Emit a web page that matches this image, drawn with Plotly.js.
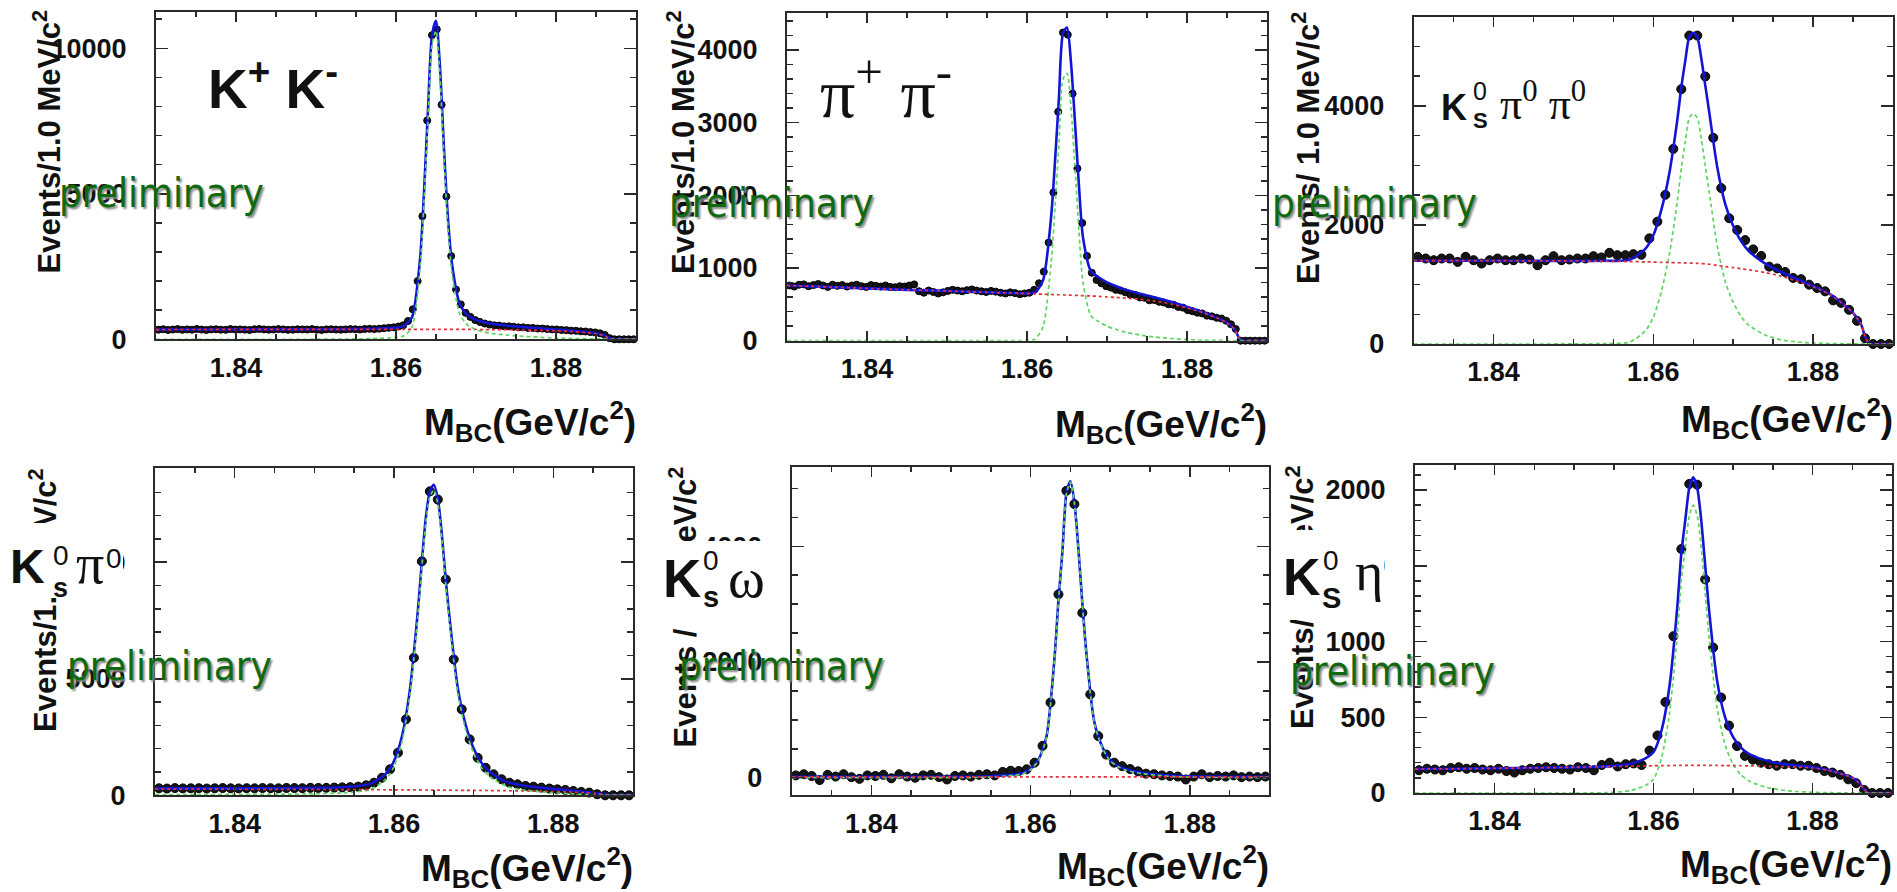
<!DOCTYPE html>
<html>
<head>
<meta charset="utf-8">
<script src="https://cdn.plot.ly/plotly-3.0.1.min.js"></script>
<style>
html, body { margin: 0; padding: 0; background: #ffffff; }
#chart { width: 1897px; height: 892px; }
</style>
</head>
<body>
<div id="chart"></div>
<script>
// ---------- bin centres (GeV/c^2) ----------
const binsFine = [1.8303, 1.8309, 1.8315, 1.8321, 1.8327, 1.8333, 1.8339, 1.8345, 1.8351, 1.8357,
  1.8363, 1.8369, 1.8375, 1.8381, 1.8387, 1.8393, 1.8399, 1.8405, 1.8411, 1.8417,
  1.8423, 1.8429, 1.8435, 1.8441, 1.8447, 1.8453, 1.8459, 1.8465, 1.8471, 1.8477,
  1.8483, 1.8489, 1.8495, 1.8501, 1.8507, 1.8513, 1.8519, 1.8525, 1.8531, 1.8537,
  1.8543, 1.8549, 1.8555, 1.8561, 1.8567, 1.8573, 1.8579, 1.8585, 1.8591, 1.8597,
  1.8603, 1.8609, 1.8615, 1.8621, 1.8627, 1.8633, 1.8639, 1.8645, 1.8651, 1.8657,
  1.8663, 1.8669, 1.8675, 1.8681, 1.8687, 1.8693, 1.8699, 1.8705, 1.8711, 1.8717,
  1.8723, 1.8729, 1.8735, 1.8741, 1.8747, 1.8753, 1.8759, 1.8765, 1.8771, 1.8777,
  1.8783, 1.8789, 1.8795, 1.8801, 1.8807, 1.8813, 1.8819, 1.8825, 1.8831, 1.8837,
  1.8843, 1.8849, 1.8855, 1.8861, 1.8867, 1.8873, 1.8879, 1.8885, 1.8891, 1.8897];

const binsCoarse = [1.8305, 1.8315, 1.8325, 1.8335, 1.8345, 1.8355, 1.8365, 1.8375, 1.8385, 1.8395,
  1.8405, 1.8415, 1.8425, 1.8435, 1.8445, 1.8455, 1.8465, 1.8475, 1.8485, 1.8495,
  1.8505, 1.8515, 1.8525, 1.8535, 1.8545, 1.8555, 1.8565, 1.8575, 1.8585, 1.8595,
  1.8605, 1.8615, 1.8625, 1.8635, 1.8645, 1.8655, 1.8665, 1.8675, 1.8685, 1.8695,
  1.8705, 1.8715, 1.8725, 1.8735, 1.8745, 1.8755, 1.8765, 1.8775, 1.8785, 1.8795,
  1.8805, 1.8815, 1.8825, 1.8835, 1.8845, 1.8855, 1.8865, 1.8875, 1.8885, 1.8895];

// sample points of the fitted curves
const fitX = [1.830, 1.835, 1.840, 1.845, 1.850, 1.854, 1.857, 1.859, 1.860, 1.861, 1.862, 1.863, 1.8635,
  1.864, 1.8645, 1.865, 1.8655, 1.866, 1.8665, 1.867, 1.868, 1.869, 1.870, 1.871, 1.872, 1.874, 1.876,
  1.878, 1.880, 1.882, 1.884, 1.885, 1.886, 1.8865, 1.887, 1.888, 1.890];

// ---------- D0 -> K+ K- ----------
const kkCounts = [330, 345, 320, 335, 350, 325, 340, 330, 355, 335,
  320, 340, 345, 330, 325, 350, 335, 340, 330, 320,
  345, 355, 340, 330, 335, 350, 340, 325, 330, 345,
  340, 335, 350, 330, 320, 340, 345, 335, 330, 340,
  350, 345, 335, 355, 360, 350, 365, 380, 395, 410,
  440, 480, 630, 1030, 2000, 4230, 7520, 10450, 10650, 8060,
  4910, 2860, 1710, 1200, 910, 770, 660, 595, 540, 505,
  480, 470, 445, 445, 430, 410, 410, 390, 390, 370,
  368, 352, 340, 338, 320, 315, 298, 292, 275, 268,
  248, 236, 205, 150, 40, 0, 0, 0, 0, 0];
const kkTotal = [335, 337, 338, 341, 343, 350, 365, 385, 400, 460, 760, 2740, 5040, 7890, 10440, 10940, 9340,
  6540, 4140, 2590, 1189, 818, 667, 585, 533, 468, 420, 378, 335, 295, 245, 206, 137, 65, 8, 5, 3];
const kkSignal = [0, 0, 0, 1, 3, 10, 25, 45, 60, 120, 420, 2400, 4700, 7550, 10100, 10600, 9000,
  6200, 3800, 2250, 850, 480, 330, 250, 200, 140, 100, 70, 45, 30, 20, 16, 12, 10, 8, 5, 3];
const kkBackground = [335, 337, 338, 340, 340, 340, 340, 340, 340, 340, 340, 340, 340, 340, 340, 340, 340,
  340, 340, 340, 339, 338, 337, 335, 333, 328, 320, 308, 290, 265, 225, 190, 125, 55, 0, 0, 0];

// ---------- D0 -> pi+ pi- ----------
const pipiCounts = [760, 745, 770, 775, 750, 765, 780, 760, 740, 770,
  755, 765, 745, 760, 770, 750, 740, 765, 755, 745,
  760, 740, 735, 750, 745, 760, 775, 680, 660, 690,
  670, 650, 665, 685, 700, 690, 680, 695, 705, 690,
  680, 670, 685, 675, 660, 650, 665, 655, 640, 650,
  660, 700, 790, 950, 1350, 2040, 3150, 4240, 4210, 3400,
  2370, 1620, 1165, 935, 835, 790, 750, 730, 700, 690,
  665, 635, 630, 595, 590, 555, 560, 535, 525, 500,
  495, 465, 455, 420, 405, 385, 375, 345, 335, 315,
  305, 275, 225, 160, 0, 0, 0, 0, 0, 0];
const pipiTotal = [760, 740, 720, 700, 685, 670, 660, 653, 650, 664, 830, 1686, 2464, 3362, 4230, 4308, 3826,
  3004, 2122, 1420, 955, 870, 803, 756, 713, 650, 595, 535, 465, 393, 304, 248, 152, 41, 1, 0, 0];
const pipiSignal = [0, 0, 0, 0, 0, 0, 0, 1, 2, 20, 190, 1050, 1830, 2730, 3600, 3680, 3200,
  2380, 1500, 800, 340, 260, 200, 160, 125, 80, 50, 30, 15, 8, 4, 3, 2, 1, 1, 0, 0];
const pipiBackground = [760, 740, 720, 700, 685, 670, 660, 652, 648, 644, 640, 636, 634, 632, 630, 628, 626,
  624, 622, 620, 615, 610, 603, 596, 588, 570, 545, 505, 450, 385, 300, 245, 150, 40, 0, 0, 0];

// ---------- D0 -> KS pi0 pi0 ----------
const kspp0Counts = [1465, 1437, 1408, 1437, 1437, 1380, 1465, 1408, 1352, 1408,
  1437, 1408, 1408, 1437, 1420, 1324, 1408, 1476, 1408, 1420,
  1437, 1437, 1476, 1455, 1532, 1493, 1493, 1510, 1500, 1775,
  2056, 2507, 3279, 4282, 5183, 5183, 4496, 3465, 2620, 2113,
  1915, 1746, 1590, 1480, 1300, 1270, 1210, 1110, 1090, 997,
  941, 885, 733, 690, 575, 389, 96, 0, 0, 0];
const kspp0Total = [1400, 1400, 1400, 1398, 1397, 1398, 1415, 1600, 1827, 2253, 2870, 3766, 4314, 4762, 5161,
  5230, 5156, 4802, 4346, 3890, 2970, 2352, 1984, 1725, 1555, 1350, 1210, 1090, 975, 848, 649, 523, 332,
  131, 1, 0, 0];
const kspp0Signal = [0, 0, 0, 0, 2, 8, 30, 220, 450, 880, 1500, 2400, 2950, 3400, 3800, 3870, 3800,
  3450, 3000, 2550, 1650, 1050, 700, 460, 310, 150, 70, 35, 15, 8, 4, 3, 2, 1, 1, 0, 0];
const kspp0Background = [1400, 1400, 1400, 1398, 1395, 1390, 1385, 1380, 1377, 1373, 1370, 1366, 1364, 1362,
  1361, 1360, 1356, 1352, 1346, 1340, 1320, 1302, 1284, 1265, 1245, 1200, 1140, 1055, 960, 840, 645, 520,
  330, 130, 0, 0, 0];

// ---------- D0 -> KS pi0 ----------
const kspCounts = [300, 290, 310, 295, 300, 305, 290, 300, 310, 300,
  295, 305, 300, 310, 305, 300, 315, 310, 305, 320,
  315, 320, 330, 340, 350, 370, 430, 540, 755, 1115,
  1830, 3260, 5900, 10040, 13040, 12690, 9260, 5830, 3690, 2400,
  1610, 1180, 900, 690, 540, 470, 400, 370, 330, 290,
  255, 230, 185, 145, 115, 45, 0, 0, 0, 0];
const kspTotal = [295, 295, 298, 303, 315, 355, 490, 937, 1465, 2533, 4532, 7930, 10029, 11928, 13027, 13325,
  12724, 11222, 9220, 7518, 4615, 3013, 2012, 1389, 1015, 598, 430, 340, 275, 215, 145, 110, 63, 30, 12, 10, 8];
const kspSignal = [25, 30, 38, 48, 65, 110, 250, 700, 1230, 2300, 4300, 7700, 9800, 11700, 12800, 13100,
  12500, 11000, 9000, 7300, 4400, 2800, 1800, 1180, 810, 400, 240, 160, 110, 70, 35, 25, 18, 15, 12, 10, 8];
const kspBackground = [270, 265, 260, 255, 250, 245, 240, 237, 235, 233, 232, 230, 229, 228, 227, 225, 224,
  222, 220, 218, 215, 213, 212, 209, 205, 198, 190, 180, 165, 145, 110, 85, 45, 15, 0, 0, 0];

// ---------- D0 -> KS omega ----------
const ksomCounts = [40, 60, 30, -40, 50, 20, 60, 10, -20, 40,
  30, 50, -10, 60, 20, 0, 40, 50, 10, -30,
  30, 40, 20, 50, 60, 40, 100, 120, 115, 145,
  260, 550, 1300, 3170, 4960, 4730, 2850, 1440, 720, 400,
  260, 200, 150, 110, 70, 60, 40, 30, 20, -30,
  20, 60, 10, 30, 20, 40, 10, 20, 10, 20];
const ksomTotal = [15, 15, 15, 15, 17, 21, 45, 80, 155, 315, 715, 2065, 3065, 3915, 4915, 5125, 4765,
  3965, 3015, 2165, 965, 535, 305, 205, 145, 85, 55, 35, 25, 20, 18, 17, 16, 16, 16, 15, 15];
const ksomSignal = [0, 0, 0, 0, 2, 6, 30, 65, 140, 300, 700, 2050, 3050, 3900, 4900, 5110, 4750,
  3950, 3000, 2150, 950, 520, 290, 190, 130, 70, 40, 20, 10, 5, 3, 2, 1, 1, 1, 0, 0];
const ksomBackground = [15, 15, 15, 15, 15, 15, 15, 15, 15, 15, 15, 15, 15, 15, 15, 15, 15,
  15, 15, 15, 15, 15, 15, 15, 15, 15, 15, 15, 15, 15, 15, 15, 15, 15, 15, 15, 15];

// ---------- D0 -> KS eta ----------
const ksetaCounts = [150, 160, 155, 150, 165, 170, 160, 165, 155, 150,
  160, 145, 135, 150, 160, 165, 170, 165, 160, 155,
  170, 165, 150, 185, 200, 175, 190, 195, 185, 280,
  380, 600, 1035, 1610, 2040, 2035, 1410, 960, 630, 445,
  310, 245, 220, 200, 190, 180, 190, 190, 180, 180,
  165, 145, 135, 120, 90, 65, 20, 0, 0, 0];
const ksetaTotal = [158, 160, 163, 166, 170, 176, 192, 229, 270, 411, 701, 1232, 1582, 1802, 2013, 2083, 2013,
  1803, 1503, 1202, 742, 501, 371, 300, 259, 217, 194, 182, 170, 152, 121, 101, 60, 25, 0, 0, 0];
const ksetaSignal = [0, 0, 0, 0, 0, 2, 15, 50, 90, 230, 520, 1050, 1400, 1620, 1830, 1900, 1830,
  1620, 1320, 1020, 560, 320, 190, 120, 80, 40, 20, 10, 5, 2, 1, 1, 0, 0, 0, 0, 0];
const ksetaBackground = [158, 160, 163, 166, 170, 174, 177, 179, 180, 181, 181, 182, 182, 182, 183, 183, 183,
  183, 183, 182, 182, 181, 181, 180, 179, 177, 174, 172, 165, 150, 120, 100, 60, 25, 0, 0, 0];

// ---------- page geometry (pixels) ----------
const W = 1897, H = 892;
const fx = p => p / W;
const fy = p => 1 - p / H;

const panels = [
  { bins: binsFine, counts: kkCounts, total: kkTotal, sig: kkSignal, bkg: kkBackground, msize: 7,
    L: 156, R: 636, T: 11.6, B: 339.3, yr: [0, 11260], dy: 5000, my: 1000 },
  { bins: binsFine, counts: pipiCounts, total: pipiTotal, sig: pipiSignal, bkg: pipiBackground, msize: 7,
    L: 787, R: 1267, T: 13, B: 340.7, yr: [0, 4509], dy: 1000, my: 200 },
  { bins: binsCoarse, counts: kspp0Counts, total: kspp0Total, sig: kspp0Signal, bkg: kspp0Background, msize: 9,
    L: 1413.7, R: 1893, T: 16.7, B: 344, yr: [0, 5500], dy: 2000, my: 500 },
  { bins: binsCoarse, counts: kspCounts, total: kspTotal, sig: kspSignal, bkg: kspBackground, msize: 9,
    L: 155, R: 633, T: 468.3, B: 795.3, yr: [0, 14030], dy: 5000, my: 1000 },
  { bins: binsCoarse, counts: ksomCounts, total: ksomTotal, sig: ksomSignal, bkg: ksomBackground, msize: 9,
    L: 791.8, R: 1269.4, T: 466.7, B: 795.3, yr: [-304, 5376], dy: 2000, my: 500 },
  { bins: binsCoarse, counts: ksetaCounts, total: ksetaTotal, sig: ksetaSignal, bkg: ksetaBackground, msize: 9,
    L: 1415, R: 1892, T: 465, B: 793, yr: [0, 2165], dy: 500, my: 100 }
];

const AX = '#2a2a2a';
const SANS = 'Liberation Sans, Arial, sans-serif';
const SERIF = 'Liberation Serif, Times New Roman, serif';
const tickFont = { family: SANS, size: 27, color: '#111111', weight: 'bold' };

const traces = [];
const layout = {
  width: W, height: H,
  margin: { l: 0, r: 0, t: 0, b: 0 },
  paper_bgcolor: '#ffffff', plot_bgcolor: '#ffffff',
  showlegend: false,
  annotations: []
};

panels.forEach((p, i) => {
  const s = i === 0 ? '' : String(i + 1);
  const xa = 'x' + s, ya = 'y' + s;
  traces.push({ x: p.bins, y: p.counts, type: 'scatter', mode: 'markers', xaxis: xa, yaxis: ya,
    cliponaxis: false, hoverinfo: 'skip',
    marker: { size: p.msize, color: '#151515', line: { color: '#000000', width: 1 } } });
  traces.push({ x: fitX, y: p.total, type: 'scatter', mode: 'lines', xaxis: xa, yaxis: ya, hoverinfo: 'skip',
    line: { color: '#1414d6', width: 2.6, shape: 'spline', smoothing: 0.7 } });
  traces.push({ x: fitX, y: p.sig, type: 'scatter', mode: 'lines', xaxis: xa, yaxis: ya, hoverinfo: 'skip',
    line: { color: '#5ed65e', width: 1.7, dash: '4px,3px', shape: 'spline', smoothing: 0.7 } });
  traces.push({ x: fitX, y: p.bkg, type: 'scatter', mode: 'lines', xaxis: xa, yaxis: ya, hoverinfo: 'skip',
    line: { color: '#e0323a', width: 1.7, dash: '3px,3px', shape: 'spline', smoothing: 0.7 } });

  layout['xaxis' + s] = {
    domain: [fx(p.L), fx(p.R)], range: [1.83, 1.89], anchor: ya,
    showgrid: false, zeroline: false, showline: true, linecolor: AX, linewidth: 2, mirror: 'allticks',
    ticks: 'inside', ticklen: 10, tickwidth: 1.5, tickcolor: AX, tick0: 1.84, dtick: 0.02,
    tickformat: '.2f', tickfont: tickFont, ticklabelstandoff: 3,
    minor: { ticks: 'inside', ticklen: 5, tickwidth: 1.5, tickcolor: AX, dtick: 0.005, tick0: 1.83, showgrid: false }
  };
  layout['yaxis' + s] = {
    domain: [fy(p.B), fy(p.T)], range: p.yr, anchor: xa,
    showgrid: false, zeroline: false, showline: true, linecolor: AX, linewidth: 2, mirror: 'allticks',
    ticks: 'inside', ticklen: 12, tickwidth: 1.5, tickcolor: AX, tick0: 0, dtick: p.dy,
    tickformat: 'd', tickfont: tickFont, ticklabelstandoff: 22,
    minor: { ticks: 'inside', ticklen: 6, tickwidth: 1.5, tickcolor: AX, dtick: p.my, tick0: 0, showgrid: false }
  };
});

const ann = layout.annotations;
function note(text, x, y, font, extra) {
  ann.push(Object.assign({ xref: 'paper', yref: 'paper', x: fx(x), y: fy(y), text: text, showarrow: false,
    xanchor: 'left', yanchor: 'middle', borderpad: 0, borderwidth: 0, font: font }, extra || {}));
}
const boldSans = (size) => ({ family: SANS, size: size, color: '#111111', weight: 'bold' });
const plainSans = (size) => ({ family: SANS, size: size, color: '#111111' });
const serif = (size) => ({ family: SERIF, size: size, color: '#111111' });

// y-axis titles
const yTitles = [
  ['Events/1.0 MeV/c<sup>2</sup>', 46.5, 10],
  ['Events/1.0 MeV/c<sup>2</sup>', 681, 10],
  ['Events/ 1.0 MeV/c<sup>2</sup>', 1306, 12],
  ['Events/1.0 MeV/c<sup>2</sup>', 43, 468],
  ['Events / 1.0 MeV/c<sup>2</sup>', 682, 467],
  ['Events/1.0 MeV/c<sup>2</sup>', 1300, 465]
];
yTitles.forEach(t => note(t[0], t[1], t[2], boldSans(31), { textangle: -90, xanchor: 'center', yanchor: 'top' }));

// x-axis titles
const xTitleY = [421, 423, 418, 867, 865, 863];
panels.forEach((p, i) => note('M<sub>BC</sub>(GeV/c<sup>2</sup>)', p.R, xTitleY[i], boldSans(37), { xanchor: 'right' }));

// white panels behind the lower-row decay labels
[[0, 523, 123, 73], [645, 541, 120, 77], [1275, 530, 109, 90]].forEach(b => {
  note('\u00a0', b[0], b[1], plainSans(10), { width: b[2], height: b[3], bgcolor: '#ffffff', yanchor: 'top' });
});

// decay-mode labels
note('K<sup>+</sup> K<sup>-</sup>', 208, 84.9, boldSans(55));
note('\u03c0<sup>+</sup> \u03c0<sup>-</sup>', 820, 87.7, serif(70));

note('K', 1441, 107.5, boldSans(36));
note('0', 1473, 91.3, plainSans(25));
note('S', 1473, 120.4, boldSans(22));
note('\u03c0<sup>0</sup> \u03c0<sup>0</sup>', 1500, 101.8, serif(44));

note('K', 10, 566.4, boldSans(48));
note('0', 53, 555.3, plainSans(28));
note('s', 53, 587.6, boldSans(27));
note('\u03c0', 76, 564.1, serif(56));
note('0', 106, 558, plainSans(28));

note('K', 663, 578.6, boldSans(53));
note('0', 703, 560.3, plainSans(28));
note('s', 703, 597, boldSans(29));
note('\u03c9', 728, 578.1, serif(56));

note('K', 1283, 577, boldSans(52));
note('0', 1323, 560.3, plainSans(28));
note('S', 1322, 598, boldSans(29));
note('\u03b7', 1355, 571.8, serif(54));

// status stamp
const stampFont = { family: 'DejaVu Sans Condensed, Open Sans, sans-serif', size: 40, color: '#0f690f',
  shadow: '2px 2px 2px #8a8a8a' };
[[59, 193.3], [669, 203.3], [1272, 203.3], [67, 666.3], [679, 666.3], [1290, 671.3]].forEach(q => {
  note('preliminary', q[0], q[1], stampFont);
});

Plotly.newPlot('chart', traces, layout, { staticPlot: true, displayModeBar: false });
</script>
</body>
</html>
